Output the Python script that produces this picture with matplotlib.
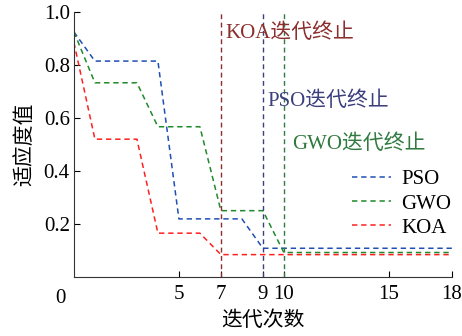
import matplotlib.pyplot as plt
from matplotlib.transforms import blended_transform_factory

plt.rcParams['font.family'] = ['Liberation Serif', 'Noto Sans CJK SC']
plt.rcParams['font.size'] = 15

# 迭代曲线数据（转折点）
pso_x = [0, 1, 4, 5, 8, 9, 18]
pso_y = [0.925, 0.815, 0.815, 0.219, 0.219, 0.108, 0.108]
gwo_x = [0, 1, 3, 4, 6, 7, 9, 10, 18]
gwo_y = [0.925, 0.733, 0.733, 0.567, 0.567, 0.25, 0.25, 0.092, 0.092]
koa_x = [0, 1, 3, 4, 6, 7, 18]
koa_y = [0.885, 0.52, 0.52, 0.165, 0.165, 0.084, 0.084]

stop_iters = [7, 9, 10]
stop_labels = ['KOA迭代终止', 'PSO迭代终止', 'GWO迭代终止']
stop_colors = ['#8b2e2e', '#3b3f7e', '#2f7a3f']
stop_text_pos = [(7.2, 0.92), (9.2, 0.665), (10.4, 0.5)]

xticks = [5, 7, 9, 10, 15, 18]
yticks = [0.2, 0.4, 0.6, 0.8, 1.0]

fig = plt.figure(figsize=(4.62, 3.36), dpi=100)
ax = fig.add_axes([0.160, 0.176, 0.818, 0.788])

dash = (0, (3.5, 2.5))
ax.plot(pso_x, pso_y, color='#1f4fb4', lw=1.1, linestyle=dash, label='PSO')
ax.plot(gwo_x, gwo_y, color='#1f8a2a', lw=1.1, linestyle=dash, label='GWO')
ax.plot(koa_x, koa_y, color='#ff2020', lw=1.1, linestyle=dash, label='KOA')

for it, lab, c, pos in zip(stop_iters, stop_labels, stop_colors, stop_text_pos):
    ax.axvline(it, color=c, lw=1.0, linestyle=dash)
    ax.text(pos[0], pos[1], lab, color=c, fontsize=15, va='center', ha='left')

ax.set_xlim(0, 18)
ax.set_ylim(0, 1.0)
ax.set_xticks(xticks)
ax.set_yticks(yticks)
ax.set_yticklabels(['0.2', '0.4', '0.6', '0.8', '1.0'])
ax.tick_params(direction='in', length=4, labelsize=15)
ax.tick_params(axis='x', pad=6)
ax.tick_params(axis='y', pad=3)
for s in ['top', 'right']:
    ax.spines[s].set_visible(False)
for s in ['left', 'bottom']:
    ax.spines[s].set_color('#333333')

trans = blended_transform_factory(ax.transAxes, ax.transAxes)
ax.text(-0.035, -0.045, '0', transform=trans, ha='center', va='top', fontsize=15)

ax.set_xlabel('迭代次数', fontsize=15, labelpad=5)
ax.set_ylabel('适应度值', fontsize=15, labelpad=6)

ax.legend(loc='upper left', bbox_to_anchor=(0.685, 0.475), frameon=False,
          handlelength=1.9, handletextpad=0.5, labelspacing=0.22, fontsize=15)

fig.savefig('out.png', dpi=100)
